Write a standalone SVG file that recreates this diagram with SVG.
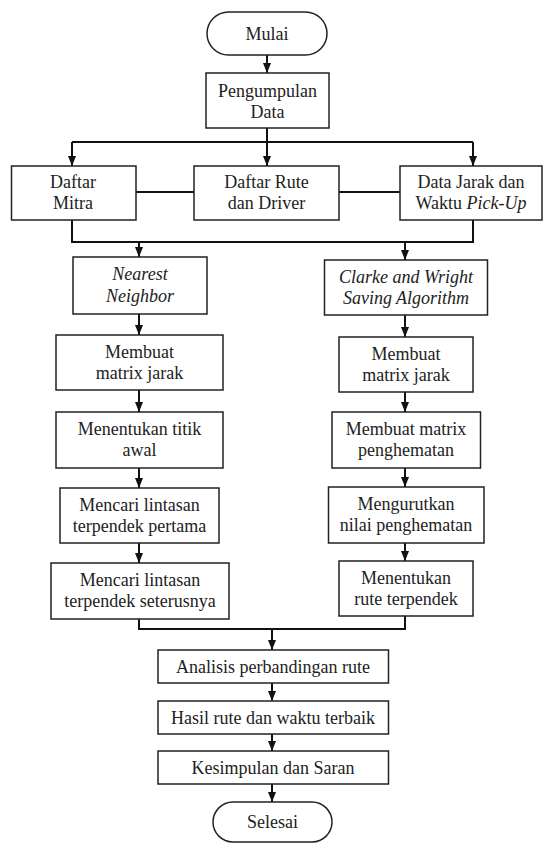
<svg xmlns="http://www.w3.org/2000/svg" width="544" height="844" viewBox="0 0 544 844">
<style>
.box{fill:#fff;stroke:#222;stroke-width:1.5}
.ln{fill:none;stroke:#111;stroke-width:2}
.ar{marker-end:url(#ah)}
text{font-family:"Liberation Serif","Times New Roman",serif;font-size:18px;fill:#222;text-anchor:middle}
.it{font-style:italic}
</style>
<defs>
<marker id="ah" markerUnits="userSpaceOnUse" markerWidth="10" markerHeight="10" viewBox="0 0 10 10" refX="10" refY="5" orient="auto">
<path d="M0,1 L10,5 L0,9 z" fill="#111"/>
</marker>
</defs>
<rect width="544" height="844" fill="#fff"/>
<g id="connectors">
<path class="ln ar" d="M267,55 V73"/>
<path class="ln ar" d="M267,128 V166"/>
<path class="ln" d="M72,142 H473"/>
<path class="ln ar" d="M72,142 V166"/>
<path class="ln ar" d="M473,142 V166"/>
<path class="ln" d="M136,192 H194 M339,192 H400"/>
<path class="ln" d="M72,220 V242 H473 V220"/>
<path class="ln ar" d="M139,242 V257"/>
<path class="ln ar" d="M405,242 V260"/>
<path class="ln ar" d="M139,314 V335"/>
<path class="ln ar" d="M139,390 V412"/>
<path class="ln ar" d="M139,468 V488"/>
<path class="ln ar" d="M139,543 V563"/>
<path class="ln ar" d="M405,315 V337"/>
<path class="ln ar" d="M405,392 V412"/>
<path class="ln ar" d="M405,468 V487"/>
<path class="ln ar" d="M405,543 V561"/>
<path class="ln" d="M139,619 V629 H405 V616"/>
<path class="ln ar" d="M272,629 V650"/>
<path class="ln ar" d="M272,683 V701"/>
<path class="ln ar" d="M272,734 V751"/>
<path class="ln ar" d="M272,784 V802"/>
</g>
<g id="mulai"><rect class="box" x="207" y="12" width="120" height="43" rx="21.5"/><text x="267" y="40">Mulai</text></g>
<g id="pengumpulan"><rect class="box" x="206" y="73" width="123" height="55"/><text x="267.5" y="97">Pengumpulan</text><text x="267.5" y="118">Data</text></g>
<g id="mitra"><rect class="box" x="11.5" y="166" width="124.5" height="54"/><text x="73" y="188">Daftar</text><text x="73" y="209">Mitra</text></g>
<g id="rute"><rect class="box" x="194" y="166" width="145" height="54"/><text x="266.5" y="188">Daftar Rute</text><text x="266.5" y="209">dan Driver</text></g>
<g id="jarak"><rect class="box" x="400" y="166" width="142" height="54"/><text x="471" y="188">Data Jarak dan</text><text x="471" y="209">Waktu <tspan class="it">Pick-Up</tspan></text></g>
<g id="nn"><rect class="box" x="73" y="257" width="134" height="57"/><text class="it" x="140" y="280">Nearest</text><text class="it" x="140" y="302">Neighbor</text></g>
<g id="cw"><rect class="box" x="324.5" y="260" width="163" height="55"/><text class="it" x="406" y="283">Clarke and Wright</text><text class="it" x="406" y="304">Saving Algorithm</text></g>
<g id="matrixL"><rect class="box" x="56" y="335" width="167" height="55"/><text x="139.5" y="358">Membuat</text><text x="139.5" y="379">matrix jarak</text></g>
<g id="matrixR"><rect class="box" x="339" y="337" width="134" height="55"/><text x="406" y="360">Membuat</text><text x="406" y="381">matrix jarak</text></g>
<g id="titik"><rect class="box" x="56" y="412" width="167" height="56"/><text x="139.5" y="435">Menentukan titik</text><text x="139.5" y="456">awal</text></g>
<g id="hemat"><rect class="box" x="332" y="412" width="148.5" height="56"/><text x="406" y="435">Membuat matrix</text><text x="406" y="456">penghematan</text></g>
<g id="pertama"><rect class="box" x="60" y="488" width="159" height="55"/><text x="139.5" y="511">Mencari lintasan</text><text x="139.5" y="532">terpendek pertama</text></g>
<g id="urut"><rect class="box" x="328.5" y="487" width="155.5" height="56"/><text x="406" y="510">Mengurutkan</text><text x="406" y="531">nilai penghematan</text></g>
<g id="seterusnya"><rect class="box" x="51" y="563" width="178" height="56"/><text x="140" y="586">Mencari lintasan</text><text x="140" y="607">terpendek seterusnya</text></g>
<g id="ruteterpendek"><rect class="box" x="339" y="561" width="134" height="55"/><text x="406" y="584">Menentukan</text><text x="406" y="605">rute terpendek</text></g>
<g id="analisis"><rect class="box" x="158" y="650" width="230.5" height="33"/><text x="273" y="673">Analisis perbandingan rute</text></g>
<g id="hasil"><rect class="box" x="158" y="701" width="230.5" height="33"/><text x="273" y="724">Hasil rute dan waktu terbaik</text></g>
<g id="kesimpulan"><rect class="box" x="158" y="751" width="230.5" height="33"/><text x="273" y="774">Kesimpulan dan Saran</text></g>
<g id="selesai"><rect class="box" x="213" y="802" width="119" height="40" rx="20"/><text x="272.5" y="828">Selesai</text></g>
</svg>
